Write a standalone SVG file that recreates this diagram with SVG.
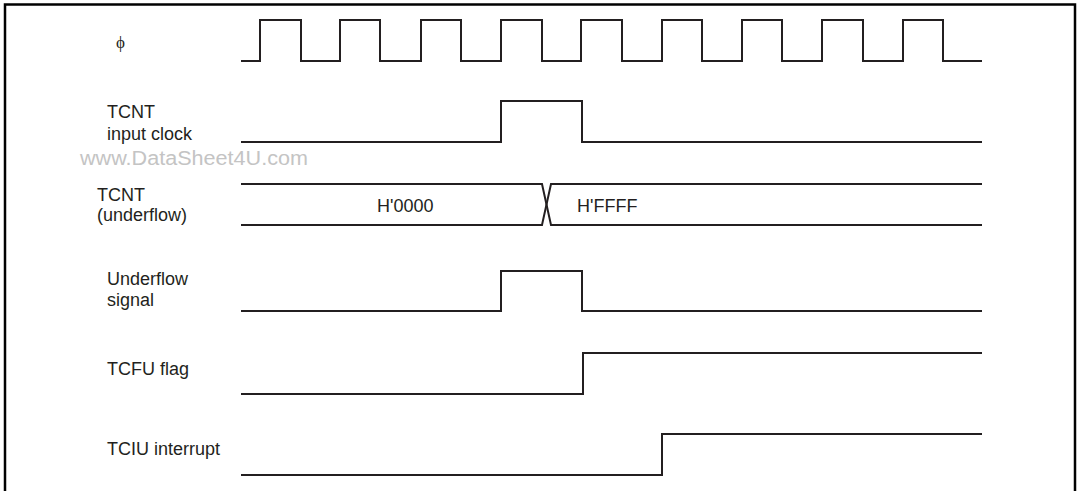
<svg xmlns="http://www.w3.org/2000/svg" width="1080" height="491" viewBox="0 0 1080 491">
<style>
.w{fill:none;stroke:#231f20;stroke-width:2;stroke-linejoin:miter;stroke-linecap:butt}
.frame{fill:none;stroke:#000;stroke-width:2.5}
.lbl{font-family:"Liberation Sans",Arial,sans-serif;font-size:18px;fill:#231f20}
.wm{font-family:"Liberation Sans",Arial,sans-serif;font-size:20px;fill:#c4c4c4}
.phi{font-family:"Liberation Serif","DejaVu Serif",serif;font-size:17px;fill:#231f20}
</style>
<rect width="1080" height="491" fill="#fff"/>
<path class="frame" d="M5,491 V4.5 H1075 V491"/>
<g id="phi">
<text class="phi" x="116" y="48">ϕ</text>
<path class="w" d="M241,61 H260 V20 H301 V61 H340 V20 H380 V61 H421 V20 H461 V61 H501 V20 H542 V61 H581 V20 H622 V61 H662 V20 H702 V61 H742 V20 H782 V61 H822 V20 H863 V61 H903 V20 H943 V61 H982"/>
</g>
<g id="tcnt-input-clock">
<text class="lbl" x="107" y="118">TCNT</text>
<text class="lbl" x="107" y="140">input clock</text>
<path class="w" d="M241,142 H501 V101 H582 V142 H982"/>
</g>
<text class="wm" x="80" y="165" textLength="228" lengthAdjust="spacingAndGlyphs">www.DataSheet4U.com</text>
<g id="tcnt-underflow">
<text class="lbl" x="97" y="201">TCNT</text>
<text class="lbl" x="97" y="221">(underflow)</text>
<path class="w" d="M241,184 H542 L551,225 H982"/>
<path class="w" d="M241,225 H542 L551,184 H982"/>
<text class="lbl" x="377" y="212">H'0000</text>
<text class="lbl" x="577" y="212">H'FFFF</text>
</g>
<g id="underflow-signal">
<text class="lbl" x="107" y="285">Underflow</text>
<text class="lbl" x="107" y="306">signal</text>
<path class="w" d="M241,311 H501 V271 H582 V311 H982"/>
</g>
<g id="tcfu-flag">
<text class="lbl" x="107" y="375">TCFU flag</text>
<path class="w" d="M241,394 H583 V353 H982"/>
</g>
<g id="tciu-interrupt">
<text class="lbl" x="107" y="455">TCIU interrupt</text>
<path class="w" d="M241,475 H662 V434 H982"/>
</g>
<g id="connectors"></g>
</svg>
